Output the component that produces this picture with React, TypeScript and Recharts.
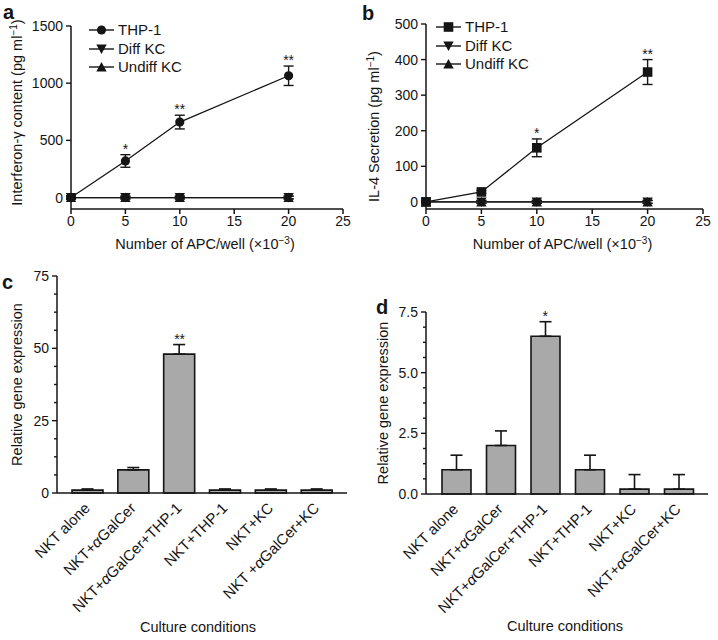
import React from 'react';
import { ComposedChart, Line, Bar, XAxis, YAxis, ErrorBar, Legend, LabelList, Label } from 'recharts';

const FONT = '"Liberation Sans", Arial, Helvetica, sans-serif';
const INK = '#151515';

// ---------- Panel a: Interferon-gamma ----------
const apcCounts = [0, 5, 10, 20];
const apcTicks = [0, 5, 10, 15, 20, 25];
const ifnThp1 = [0, 320, 660, 1065];
const ifnThp1Err = [15, 55, 60, 85];
const ifnDiffKc = [0, 0, 0, 0];
const ifnDiffKcErr = [12, 12, 12, 12];
const ifnUndiffKc = [0, 0, 0, 0];
const ifnUndiffKcErr = [12, 12, 12, 12];
const ifnSig = ['', '*', '**', '**'];
const ifnTicksY = [0, 500, 1000, 1500];

// ---------- Panel b: IL-4 ----------
const il4Thp1 = [0, 28, 152, 365];
const il4Thp1Err = [4, 4, 25, 35];
const il4DiffKc = [0, 0, 0, 0];
const il4DiffKcErr = [4, 4, 4, 4];
const il4UndiffKc = [0, 0, 0, 0];
const il4UndiffKcErr = [4, 4, 4, 4];
const il4Sig = ['', '', '*', '**'];
const il4TicksY = [0, 100, 200, 300, 400, 500];

// ---------- Panel c ----------
const conditionsC = ['NKT alone', 'NKT+αGalCer', 'NKT+αGalCer+THP-1', 'NKT+THP-1', 'NKT+KC', 'NKT +αGalCer+KC'];
const exprC = [1, 8, 48, 1, 1, 1];
const exprCErr = [0.4, 0.8, 3.3, 0.4, 0.4, 0.4];
const sigC = ['', '', '**', '', '', ''];
const ticksC = [0, 6.25, 12.5, 18.75, 25, 31.25, 37.5, 43.75, 50, 56.25, 62.5, 68.75, 75];

// ---------- Panel d ----------
const conditionsD = ['NKT alone', 'NKT+αGalCer', 'NKT+αGalCer+THP-1', 'NKT+THP-1', 'NKT+KC', 'NKT+αGalCer+KC'];
const exprD = [1, 2, 6.5, 1, 0.2, 0.2];
const exprDErr = [0.6, 0.6, 0.6, 0.6, 0.6, 0.6];
const sigD = ['', '', '*', '', '', ''];
const ticksD = [0, 0.625, 1.25, 1.875, 2.5, 3.125, 3.75, 4.375, 5, 5.625, 6.25, 6.875, 7.5];

const legendOrder = ['THP-1', 'Diff KC', 'Undiff KC'];

const buildLineData = (thp: number[], thpErr: number[], diff: number[], diffErr: number[], und: number[], undErr: number[], sig: string[]) =>
  apcCounts.map((x, i) => ({
    x,
    thp1: thp[i],
    thp1Err: thpErr[i],
    diff: diff[i],
    diffErr: diffErr[i],
    undiff: und[i],
    undiffErr: undErr[i],
    sig: sig[i],
    sigTop: thp[i] + thpErr[i],
  }));

const ifnData = buildLineData(ifnThp1, ifnThp1Err, ifnDiffKc, ifnDiffKcErr, ifnUndiffKc, ifnUndiffKcErr, ifnSig);
const il4Data = buildLineData(il4Thp1, il4Thp1Err, il4DiffKc, il4DiffKcErr, il4UndiffKc, il4UndiffKcErr, il4Sig);

const buildBarData = (names: string[], vals: number[], errs: number[], sig: string[]) =>
  names.map((name, i) => ({ name, v: vals[i], err: [0, errs[i]], sig: sig[i], sigTop: vals[i] + errs[i] }));

const dataC = buildBarData(conditionsC, exprC, exprCErr, sigC);
const dataD = buildBarData(conditionsD, exprD, exprDErr, sigD);

// ---------- markers ----------
type Shape = 'circle' | 'square' | 'down' | 'up';
const markerEl = (shape: Shape, cx: number, cy: number, key?: string) => {
  if (shape === 'circle') return <circle key={key} cx={cx} cy={cy} r={4.6} fill={INK} />;
  if (shape === 'square') return <rect key={key} x={cx - 4.8} y={cy - 4.8} width={9.6} height={9.6} fill={INK} />;
  if (shape === 'down')
    return <polygon key={key} points={`${cx - 5.2},${cy - 4.5} ${cx + 5.2},${cy - 4.5} ${cx},${cy + 5}`} fill={INK} />;
  return <polygon key={key} points={`${cx - 5.2},${cy + 4.5} ${cx + 5.2},${cy + 4.5} ${cx},${cy - 5}`} fill={INK} />;
};
const dotRenderer = (shape: Shape, tag: string) => (p: any) => markerEl(shape, p.cx, p.cy, `${tag}-${p.index}`);

const makeLegend = (thpShape: Shape) => (props: any) => {
  const shapes: Record<string, Shape> = { 'THP-1': thpShape, 'Diff KC': 'down', 'Undiff KC': 'up' };
  const payload = (props.payload || [])
    .filter((e: any) => legendOrder.includes(e.value))
    .sort((a: any, b: any) => legendOrder.indexOf(a.value) - legendOrder.indexOf(b.value));
  return (
    <div style={{ fontFamily: FONT, fontSize: 15, color: INK, lineHeight: '18px' }}>
      {payload.map((e: any) => (
        <div key={e.value} style={{ display: 'flex', alignItems: 'center', height: 18.5 }}>
          <svg width={25} height={12} style={{ display: 'block' }}>
            <line x1={0} x2={25} y1={6} y2={6} stroke={INK} strokeWidth={1.4} />
            {markerEl(shapes[e.value] || 'circle', 12.5, 6)}
          </svg>
          <span style={{ marginLeft: 4 }}>{e.value}</span>
        </div>
      ))}
    </div>
  );
};

// ---------- ticks & labels ----------
const makeYTick = (majorEvery: number, decimals: number) => (props: any) => {
  const { x, y, payload } = props;
  const v = Number(payload.value);
  const r = v / majorEvery;
  const isMajor = Math.abs(r - Math.round(r)) < 1e-6;
  return (
    <g>
      <line x1={x - (isMajor ? 5 : 3)} x2={x} y1={y} y2={y} stroke={INK} strokeWidth={1.4} />
      {isMajor && (
        <text x={x - 8} y={y} dy="0.36em" textAnchor="end" fontSize={14} fontFamily={FONT} fill={INK}>
          {v.toFixed(decimals)}
        </text>
      )}
    </g>
  );
};

const RotatedTick = (props: any) => {
  const { x, y, payload } = props;
  const parts = String(payload.value).split('α');
  return (
    <g transform={`translate(${x + 3},${y + 16})`}>
      <text transform="rotate(-45)" x={0} y={0} textAnchor="end" fontSize={15} fontFamily={FONT} fill={INK}>
        {parts.map((p, i) => (
          <React.Fragment key={i}>
            {i > 0 && <tspan fontStyle="italic">α</tspan>}
            {p}
          </React.Fragment>
        ))}
      </text>
    </g>
  );
};

const SigLabel = (props: any) => {
  const { x, y, value } = props;
  if (!value) return null;
  return (
    <text x={x} y={y - 1} textAnchor="middle" fontSize={14} fontFamily={FONT} fill={INK}>
      {value}
    </text>
  );
};

const yTitle = (main: string, withUnit: boolean, cxOff: number, cyOff: number) => (props: any) => {
  const vb = props.viewBox || {};
  const cx = vb.x + cxOff;
  const cy = vb.y + vb.height / 2 + cyOff;
  return (
    <text transform={`translate(${cx + 5},${cy}) rotate(-90)`} textAnchor="middle" fontSize={14.5} fontFamily={FONT} fill={INK}>
      {main}
      {withUnit && (
        <>
          <tspan>(pg ml</tspan>
          <tspan dy={-5} fontSize={10}>−1</tspan>
          <tspan dy={5}>)</tspan>
        </>
      )}
    </text>
  );
};

const xTitle = (main: string, withExp: boolean, dx: number, dy: number, size: number) => (props: any) => {
  const vb = props.viewBox || {};
  return (
    <text x={vb.x + vb.width / 2 + dx} y={vb.y + dy} textAnchor="middle" fontSize={size} fontFamily={FONT} fill={INK}>
      {main}
      {withExp && (
        <>
          <tspan dy={-5} fontSize={10}>−3</tspan>
          <tspan dy={5}>)</tspan>
        </>
      )}
    </text>
  );
};

// ---------- panels ----------
function LinePanel(p: {
  data: any[];
  left: number;
  width: number;
  marginTop: number;
  marginRight: number;
  yWidth: number;
  yDomain: [number, number];
  yTicks: number[];
  majorEvery: number;
  thpShape: Shape;
  yMain: string;
  yTitleX: number;
  yTitleDy: number;
  legendLeft: number;
  legendTop: number;
}) {
  return (
    <div style={{ position: 'absolute', left: p.left, top: 0 }}>
      <ComposedChart width={p.width} height={262} data={p.data} margin={{ top: p.marginTop, right: p.marginRight, left: 0, bottom: 0 }}>
        <XAxis
          dataKey="x"
          type="number"
          domain={[0, 25]}
          ticks={apcTicks}
          interval={0}
          height={53}
          tickSize={5}
          tickMargin={2}
          stroke={INK}
          strokeWidth={1.5}
          tick={{ fontSize: 14, fontFamily: FONT, fill: INK }}
          label={<Label content={xTitle('Number of APC/well (×10', true, -2, 40, 14.5)} />}
        />
        <YAxis
          type="number"
          domain={p.yDomain}
          ticks={p.yTicks}
          interval={0}
          width={p.yWidth}
          tickSize={0}
          tickMargin={0}
          tickLine={false}
          stroke={INK}
          strokeWidth={1.5}
          tick={makeYTick(p.majorEvery, 0)}
          allowDataOverflow
          label={<Label content={yTitle(p.yMain, true, p.yTitleX, p.yTitleDy)} />}
        />
        <Legend
          layout="vertical"
          align="center"
          verticalAlign="middle"
          wrapperStyle={{ left: p.legendLeft, top: p.legendTop, width: 'auto', height: 'auto' }}
          content={makeLegend(p.thpShape)}
        />
        <Line dataKey="thp1" name="THP-1" stroke={INK} strokeWidth={1.3} dot={dotRenderer(p.thpShape, 't')} activeDot={false} isAnimationActive={false}>
          <ErrorBar dataKey="thp1Err" width={5} stroke={INK} strokeWidth={1.4} />
        </Line>
        <Line dataKey="diff" name="Diff KC" stroke={INK} strokeWidth={1.3} dot={dotRenderer('down', 'd')} activeDot={false} isAnimationActive={false}>
          <ErrorBar dataKey="diffErr" width={5} stroke={INK} strokeWidth={1.4} />
        </Line>
        <Line dataKey="undiff" name="Undiff KC" stroke={INK} strokeWidth={1.3} dot={dotRenderer('up', 'u')} activeDot={false} isAnimationActive={false}>
          <ErrorBar dataKey="undiffErr" width={5} stroke={INK} strokeWidth={1.4} />
        </Line>
        <Line dataKey="sigTop" name="sig" stroke="none" dot={false} activeDot={false} legendType="none" isAnimationActive={false}>
          <LabelList dataKey="sig" content={SigLabel} />
        </Line>
      </ComposedChart>
    </div>
  );
}

function BarPanel(p: {
  data: any[];
  left: number;
  width: number;
  marginTop: number;
  marginRight: number;
  yWidth: number;
  xHeight: number;
  yMax: number;
  yTicks: number[];
  majorEvery: number;
  decimals: number;
  barSize: number;
  padL: number;
  padR: number;
  yTitleX: number;
  xTitleDx: number;
  xTitleDy: number;
}) {
  return (
    <div style={{ position: 'absolute', left: p.left, top: 262 }}>
      <ComposedChart width={p.width} height={378} data={p.data} margin={{ top: p.marginTop, right: p.marginRight, left: 0, bottom: 0 }}>
        <XAxis
          dataKey="name"
          type="category"
          interval={0}
          height={p.xHeight}
          tickSize={0}
          tickMargin={0}
          tickLine={false}
          stroke={INK}
          strokeWidth={1.5}
          padding={{ left: p.padL, right: p.padR }}
          tick={RotatedTick}
          label={<Label content={xTitle('Culture conditions', false, p.xTitleDx, p.xTitleDy, 14.5)} />}
        />
        <YAxis
          type="number"
          domain={[0, p.yMax]}
          ticks={p.yTicks}
          interval={0}
          width={p.yWidth}
          tickSize={0}
          tickMargin={0}
          tickLine={false}
          stroke={INK}
          strokeWidth={1.5}
          tick={makeYTick(p.majorEvery, p.decimals)}
          label={<Label content={yTitle('Relative gene expression', false, p.yTitleX, 0)} />}
        />
        <Bar dataKey="v" fill="#a9a9a9" stroke={INK} strokeWidth={1.6} barSize={p.barSize} isAnimationActive={false}>
          <ErrorBar dataKey="err" width={6} stroke={INK} strokeWidth={1.6} />
        </Bar>
        <Line dataKey="sigTop" stroke="none" dot={false} activeDot={false} legendType="none" isAnimationActive={false}>
          <LabelList dataKey="sig" content={SigLabel} />
        </Line>
      </ComposedChart>
    </div>
  );
}

const PanelLetter = ({ x, y, text }: { x: number; y: number; text: string }) => (
  <div style={{ position: 'absolute', left: x, top: y, fontFamily: FONT, fontWeight: 'bold', fontSize: 20, lineHeight: '20px', color: INK }}>
    {text}
  </div>
);

export default function App() {
  return (
    <div style={{ position: 'absolute', left: 0, top: 0, width: 718, height: 640, background: '#fff', overflow: 'hidden' }}>
      <LinePanel
        data={ifnData}
        left={0}
        width={359}
        marginTop={26}
        marginRight={16}
        yWidth={71}
        yDomain={[-100, 1500]}
        yTicks={ifnTicksY}
        majorEvery={500}
        thpShape="circle"
        yMain="Interferon-γ content "
        yTitleX={16.5}
        yTitleDy={-5}
        legendLeft={89}
        legendTop={21}
      />
      <LinePanel
        data={il4Data}
        left={360}
        width={358}
        marginTop={24}
        marginRight={15}
        yWidth={66}
        yDomain={[-20, 500]}
        yTicks={il4TicksY}
        majorEvery={100}
        thpShape="square"
        yMain="IL-4 Secretion "
        yTitleX={14}
        yTitleDy={10}
        legendLeft={76}
        legendTop={18}
      />
      <BarPanel
        data={dataC}
        left={0}
        width={360}
        marginTop={14}
        marginRight={13}
        yWidth={57}
        xHeight={147}
        yMax={75}
        yTicks={ticksC}
        majorEvery={25}
        decimals={0}
        barSize={31}
        padL={8}
        padR={7}
        yTitleX={17}
        xTitleDx={-4}
        xTitleDy={139}
      />
      <BarPanel
        data={dataD}
        left={360}
        width={358}
        marginTop={50}
        marginRight={10}
        yWidth={66}
        xHeight={146}
        yMax={7.5}
        yTicks={ticksD}
        majorEvery={2.5}
        decimals={1}
        barSize={29}
        padL={8}
        padR={7}
        yTitleX={23}
        xTitleDx={-2}
        xTitleDy={137}
      />
      <PanelLetter x={3} y={2} text="a" />
      <PanelLetter x={362} y={3} text="b" />
      <PanelLetter x={2} y={272} text="c" />
      <PanelLetter x={376} y={297} text="d" />
    </div>
  );
}
